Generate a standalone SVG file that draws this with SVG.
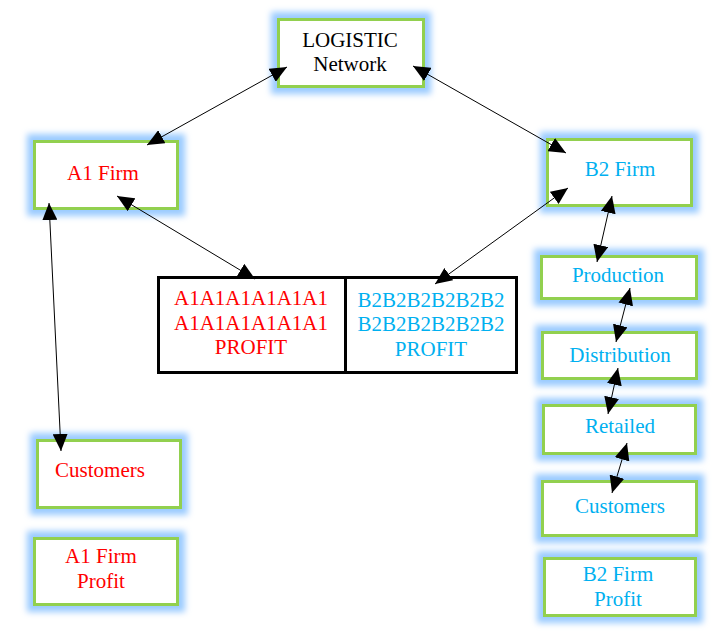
<svg xmlns="http://www.w3.org/2000/svg" width="725" height="636" viewBox="0 0 725 636">
<style>
.box{fill:#fff;stroke:#92D050;stroke-width:3;filter:url(#glow)}
.t{font-family:'Liberation Serif','Times New Roman',serif;font-size:21px;text-anchor:middle}
.red{fill:#FF0000}
.blue{fill:#00B0F0}
.blk{fill:#000}
.c line{stroke:#000;stroke-width:1;marker-start:url(#ah);marker-end:url(#ah)}
.tbl{fill:#fff;stroke:#000;stroke-width:3}
</style>
<defs>
<filter id="glow" x="-30%" y="-40%" width="160%" height="180%">
<feMorphology in="SourceAlpha" operator="dilate" radius="6" result="d"/>
<feGaussianBlur in="d" stdDeviation="3" result="b"/>
<feFlood flood-color="#9ACBFF"/>
<feComposite in2="b" operator="in" result="g"/>
<feMerge><feMergeNode in="g"/><feMergeNode in="SourceGraphic"/></feMerge>
</filter>
<marker id="ah" viewBox="0 0 17 15" refX="17" refY="7.5" markerWidth="17" markerHeight="15" markerUnits="userSpaceOnUse" orient="auto-start-reverse">
<path d="M0,0 L17,7.5 L0,15 Z" fill="#000"/>
</marker>
</defs>
<g id="logistic"><rect class="box" x="278.5" y="19.5" width="145" height="67"/><text class="t blk" x="350" y="47">LOGISTIC</text><text class="t blk" x="350" y="71">Network</text></g>
<g id="a1firm"><rect class="box" x="34.5" y="141.5" width="143" height="67"/><text class="t red" x="103" y="180">A1 Firm</text></g>
<g id="b2firm"><rect class="box" x="547.5" y="139.5" width="144" height="66"/><text class="t blue" x="620" y="176">B2 Firm</text></g>
<g id="profit-table"><rect class="tbl" x="158.5" y="277.5" width="358" height="95"/><line x1="345.5" y1="277.5" x2="345.5" y2="372.5" stroke="#000" stroke-width="3"/>
<text class="t red" x="251" y="305">A1A1A1A1A1A1</text><text class="t red" x="251" y="330">A1A1A1A1A1A1</text><text class="t red" x="251" y="354">PROFIT</text>
<text class="t blue" x="431" y="307">B2B2B2B2B2B2</text><text class="t blue" x="431" y="331">B2B2B2B2B2B2</text><text class="t blue" x="431" y="356">PROFIT</text></g>
<g id="production"><rect class="box" x="541.5" y="256.5" width="155" height="42"/><text class="t blue" x="618" y="282">Production</text></g>
<g id="distribution"><rect class="box" x="542.5" y="332.5" width="154" height="46"/><text class="t blue" x="620" y="362">Distribution</text></g>
<g id="retailed"><rect class="box" x="543.5" y="405.5" width="152" height="48"/><text class="t blue" x="620" y="433">Retailed</text></g>
<g id="customers-b2"><rect class="box" x="542.5" y="481.5" width="154" height="54"/><text class="t blue" x="620" y="513">Customers</text></g>
<g id="b2profit"><rect class="box" x="544.5" y="558.5" width="151" height="57"/><text class="t blue" x="618" y="581">B2 Firm</text><text class="t blue" x="618" y="606">Profit</text></g>
<g id="customers-a1"><rect class="box" x="37.5" y="440.5" width="143" height="67"/><text class="t red" x="100" y="477">Customers</text></g>
<g id="a1profit"><rect class="box" x="34.5" y="538.5" width="143" height="66"/><text class="t red" x="101" y="563">A1 Firm</text><text class="t red" x="101" y="588">Profit</text></g>
<g id="connectors" class="c">
<line x1="287" y1="67" x2="147" y2="145"/>
<line x1="413" y1="66" x2="566" y2="153"/>
<line x1="117" y1="196" x2="255" y2="279"/>
<line x1="568" y1="188" x2="435" y2="284"/>
<line x1="49" y1="203" x2="61" y2="451"/>
<line x1="612" y1="196" x2="597" y2="262"/>
<line x1="630" y1="288" x2="616" y2="342"/>
<line x1="618" y1="368" x2="608" y2="414"/>
<line x1="627" y1="443" x2="612" y2="493"/>
</g>
</svg>
